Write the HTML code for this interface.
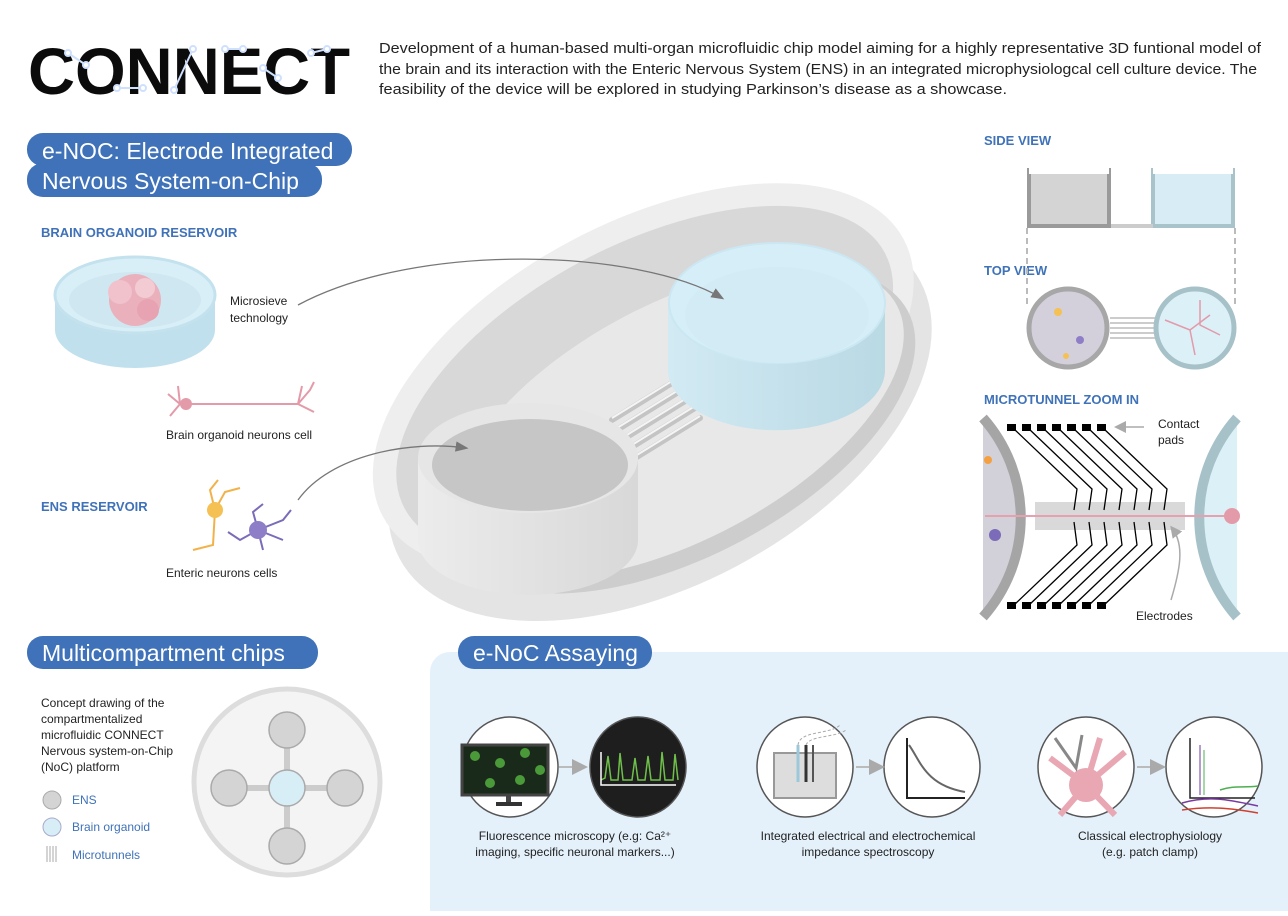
<!DOCTYPE html>
<html><head><meta charset="utf-8"><style>
body{margin:0;width:1288px;height:911px;overflow:hidden;background:#fff;font-family:"Liberation Sans",sans-serif;}
svg text{font-family:"Liberation Sans",sans-serif;}
</style></head><body>
<svg width="1288" height="911" viewBox="0 0 1288 911" xmlns="http://www.w3.org/2000/svg">
<defs>
<linearGradient id="cyl" x1="0" x2="1"><stop offset="0" stop-color="#ececec"/><stop offset="1" stop-color="#d8d8d8"/></linearGradient>
<linearGradient id="bcyl" x1="0" x2="1"><stop offset="0" stop-color="#d2eaf3"/><stop offset="1" stop-color="#b9d9e4"/></linearGradient>
<marker id="ar" markerWidth="10" markerHeight="8" refX="8" refY="4" orient="auto"><path d="M0,0 L10,4 L0,8 z" fill="#777"/></marker>
<marker id="ar2" markerWidth="8" markerHeight="8" refX="6" refY="4" orient="auto"><path d="M0,0 L8,4 L0,8 z" fill="#aaa"/></marker>
</defs>

<!-- Logo -->
<text x="28" y="94" font-size="66" font-weight="bold" fill="#0b0b0b" textLength="322" lengthAdjust="spacingAndGlyphs">CONNECT</text>
<g stroke="#cfe0ff" stroke-width="2" fill="#fff">
<line x1="68" y1="53" x2="86" y2="65"/><line x1="117" y1="88" x2="143" y2="88"/><line x1="174" y1="90" x2="193" y2="49"/><line x1="225" y1="49" x2="243" y2="49"/><line x1="263" y1="68" x2="278" y2="78"/><line x1="311" y1="53" x2="327" y2="49"/>
<circle cx="68" cy="53" r="3"/><circle cx="86" cy="65" r="3"/><circle cx="117" cy="88" r="3"/><circle cx="143" cy="88" r="3"/><circle cx="174" cy="90" r="3"/><circle cx="193" cy="49" r="3"/><circle cx="225" cy="49" r="3"/><circle cx="243" cy="49" r="3"/><circle cx="263" cy="68" r="3"/><circle cx="278" cy="78" r="3"/><circle cx="311" cy="53" r="3"/><circle cx="327" cy="49" r="3"/>
</g>
<g font-size="14.5" fill="#222">
<text x="379" y="53" textLength="882" lengthAdjust="spacingAndGlyphs">Development of a human-based multi-organ microfluidic chip model aiming for a highly representative 3D funtional model of</text>
<text x="379" y="74" textLength="878" lengthAdjust="spacingAndGlyphs">the brain and its interaction with the Enteric Nervous System (ENS) in an integrated microphysiologcal cell culture device. The</text>
<text x="379" y="94" textLength="628" lengthAdjust="spacingAndGlyphs">feasibility of the device will be explored in studying Parkinson’s disease as a showcase.</text>
</g>

<!-- Pills -->
<rect x="27" y="133" width="325" height="33" rx="16" fill="#3f72b8"/>
<rect x="27" y="163" width="295" height="34" rx="16" fill="#3f72b8"/>
<text x="42" y="159" font-size="23" fill="#fff">e-NOC: Electrode Integrated</text>
<text x="42" y="189" font-size="23" fill="#fff">Nervous System-on-Chip</text>
<rect x="27" y="636" width="291" height="33" rx="16" fill="#3f72b8"/>
<text x="42" y="661" font-size="23" fill="#fff">Multicompartment chips</text>

<g font-size="13" font-weight="bold" fill="#3f72b8">
<text x="41" y="237">BRAIN ORGANOID RESERVOIR</text>
<text x="41" y="511">ENS RESERVOIR</text>
<text x="984" y="145">SIDE VIEW</text>
<text x="984" y="275">TOP VIEW</text>
<text x="984" y="404">MICROTUNNEL ZOOM IN</text>
</g>

<!-- Brain organoid dish -->
<path d="M55,295 L55,330 A80,38 0 0 0 215,330 L215,295 Z" fill="#bfe0ec"/>
<ellipse cx="135" cy="295" rx="80" ry="38" fill="#d9eff7" stroke="#c3e2ee" stroke-width="3"/>
<ellipse cx="135" cy="300" rx="66" ry="28" fill="#cfe7f1"/>
<circle cx="135" cy="300" r="26" fill="#eab1bd"/><circle cx="120" cy="292" r="12" fill="#f1c2cc"/><circle cx="148" cy="310" r="11" fill="#e7a3b1"/><circle cx="145" cy="288" r="10" fill="#f3cbd3"/>
<text x="230" y="305" font-size="12" fill="#222">Microsieve</text>
<text x="230" y="322" font-size="12" fill="#222">technology</text>
<g stroke="#e39aa9" stroke-width="2" fill="none"><line x1="190" y1="404" x2="298" y2="404"/><path d="M180,404 l-12,-10 M180,404 l-10,12 M180,404 l-2,-18 M298,404 l12,-14 l4,-8 M298,404 l16,8 M298,404 l4,-18"/></g>
<circle cx="186" cy="404" r="6" fill="#e39aa9"/>
<text x="166" y="439" font-size="12" fill="#222">Brain organoid neurons cell</text>
<g fill="none" stroke-width="2"><path d="M215,510 l-5,-20 l8,-10 M215,510 l-2,35 l-20,5 M215,510 l10,-18 l15,-4" stroke="#f2b24a"/><path d="M258,530 l-18,10 l-12,-8 M258,530 l25,-10 l8,-10 M258,530 l5,20 M258,530 l-5,-18 l10,-8 M258,530 l25,10" stroke="#7b6bb8"/></g>
<circle cx="215" cy="510" r="8" fill="#f5c154"/><circle cx="258" cy="530" r="9" fill="#8e7ec8"/>
<text x="166" y="577" font-size="12" fill="#222">Enteric neurons cells</text>

<!-- Big chip -->
<g transform="rotate(-28 655 400)">
<ellipse cx="650" cy="420" rx="295" ry="165" fill="#e4e4e4"/>
<ellipse cx="655" cy="375" rx="295" ry="155" fill="#eeeeee"/>
<ellipse cx="655" cy="378" rx="272" ry="135" fill="#d8d8d8"/>
<ellipse cx="665" cy="440" rx="255" ry="125" fill="#cdcdcd"/>
<ellipse cx="665" cy="430" rx="248" ry="118" fill="#e8e8e8"/>
</g>
<g stroke="#c4c4c4" stroke-width="6" stroke-linecap="round">
<line x1="612" y1="420" x2="680" y2="378"/><line x1="617" y1="430" x2="685" y2="388"/><line x1="622" y1="440" x2="690" y2="398"/><line x1="627" y1="450" x2="695" y2="408"/><line x1="632" y1="460" x2="700" y2="418"/>
</g>
<g stroke="#f5f5f5" stroke-width="2"><line x1="612" y1="418" x2="680" y2="376"/><line x1="617" y1="428" x2="685" y2="386"/><line x1="622" y1="438" x2="690" y2="396"/><line x1="627" y1="448" x2="695" y2="406"/><line x1="632" y1="458" x2="700" y2="416"/></g>
<path d="M668,303 L668,370 A108,60 0 0 0 885,370 L885,303 Z" fill="url(#bcyl)"/>
<ellipse cx="777" cy="303" rx="108" ry="60" fill="#d6eef7" stroke="#cbe7f2" stroke-width="2"/>
<ellipse cx="777" cy="315" rx="92" ry="48" fill="#d3ebf5"/>
<path d="M418,458 L418,540 A110,55 0 0 0 638,540 L638,458 Z" fill="url(#cyl)"/>
<ellipse cx="528" cy="458" rx="110" ry="55" fill="#e6e6e6"/>
<ellipse cx="530" cy="465" rx="98" ry="46" fill="#c6c6c6"/>
<path d="M298,305 C420,240 640,250 722,298" stroke="#777" stroke-width="1.3" fill="none" marker-end="url(#ar)"/>
<path d="M298,500 C330,455 410,440 466,448" stroke="#777" stroke-width="1.3" fill="none" marker-end="url(#ar)"/>

<!-- Side view -->
<rect x="1029" y="170" width="80" height="56" fill="#d4d4d4" stroke="#9a9a9a" stroke-width="4"/>
<rect x="1029" y="166" width="80" height="8" fill="#fff"/>
<rect x="1153" y="170" width="80" height="56" fill="#d7ecf5" stroke="#a9c3cb" stroke-width="4"/>
<rect x="1153" y="166" width="80" height="8" fill="#fff"/>
<line x1="1111" y1="226" x2="1153" y2="226" stroke="#ccc" stroke-width="4"/>
<g stroke="#bbb" stroke-width="2" stroke-dasharray="6,4" fill="none"><line x1="1027" y1="228" x2="1027" y2="305"/><line x1="1235" y1="228" x2="1235" y2="305"/></g>
<g stroke="#bbb" stroke-width="1.5"><line x1="1110" y1="318" x2="1155" y2="318"/><line x1="1110" y1="323" x2="1155" y2="323"/><line x1="1110" y1="328" x2="1155" y2="328"/><line x1="1110" y1="333" x2="1155" y2="333"/><line x1="1110" y1="338" x2="1155" y2="338"/></g>
<circle cx="1068" cy="328" r="39" fill="#d3d0db" stroke="#a7a7a7" stroke-width="5"/>
<circle cx="1058" cy="312" r="4" fill="#f5c154"/><circle cx="1080" cy="340" r="4" fill="#8e7ec8"/><circle cx="1066" cy="356" r="3" fill="#f5c154"/>
<circle cx="1195" cy="328" r="39" fill="#dcf0f8" stroke="#a7c1c9" stroke-width="5"/>
<g stroke="#e39aa9" stroke-width="1.5" fill="none"><path d="M1165,320 l25,10 l20,-15 M1190,330 l5,25 M1200,300 l0,25 l20,10"/></g>

<!-- Microtunnel zoom -->
<path d="M983,420 A150,150 0 0 1 983,615 Z" fill="#d2d0d9"/>
<path d="M983,418 A150,150 0 0 1 983,617" fill="none" stroke="#a5a5a5" stroke-width="10"/>
<path d="M1237,420 A150,150 0 0 0 1237,617 L1237,420 Z" fill="#dcf0f8"/>
<path d="M1237,418 A150,150 0 0 0 1237,617" fill="none" stroke="#a7c1c9" stroke-width="10"/>
<rect x="1035" y="502" width="150" height="28" fill="#d9d9d9"/>
<line x1="985" y1="516" x2="1230" y2="516" stroke="#e6a0ae" stroke-width="2"/>
<circle cx="1232" cy="516" r="8" fill="#e39aa9"/>
<circle cx="995" cy="535" r="6" fill="#7b6bb8"/><circle cx="988" cy="460" r="4" fill="#f5a040"/>
<g fill="#000"><rect x="1007" y="424" width="9" height="7"/><rect x="1022" y="424" width="9" height="7"/><rect x="1037" y="424" width="9" height="7"/><rect x="1052" y="424" width="9" height="7"/><rect x="1067" y="424" width="9" height="7"/><rect x="1082" y="424" width="9" height="7"/><rect x="1097" y="424" width="9" height="7"/>
<rect x="1007" y="602" width="9" height="7"/><rect x="1022" y="602" width="9" height="7"/><rect x="1037" y="602" width="9" height="7"/><rect x="1052" y="602" width="9" height="7"/><rect x="1067" y="602" width="9" height="7"/><rect x="1082" y="602" width="9" height="7"/><rect x="1097" y="602" width="9" height="7"/></g>
<g stroke="#000" stroke-width="1.3" fill="none">
<path d="M1013,428 L1077,489 L1074,510 M1013,606 L1077,545 L1074,522"/>
<path d="M1028,428 L1092,489 L1089,510 M1028,606 L1092,545 L1089,522"/>
<path d="M1043,428 L1107,489 L1104,510 M1043,606 L1107,545 L1104,522"/>
<path d="M1058,428 L1122,489 L1119,510 M1058,606 L1122,545 L1119,522"/>
<path d="M1073,428 L1137,489 L1134,510 M1073,606 L1137,545 L1134,522"/>
<path d="M1088,428 L1152,489 L1149,510 M1088,606 L1152,545 L1149,522"/>
<path d="M1103,428 L1167,489 L1164,510 M1103,606 L1167,545 L1164,522"/>
</g>
<line x1="1144" y1="427" x2="1117" y2="427" stroke="#aaa" stroke-width="1.5" marker-end="url(#ar2)"/>
<path d="M1171,600 C1180,570 1185,545 1172,528" stroke="#aaa" stroke-width="1.5" fill="none" marker-end="url(#ar2)"/>
<text x="1158" y="428" font-size="12" fill="#222">Contact</text>
<text x="1158" y="444" font-size="12" fill="#222">pads</text>
<text x="1136" y="620" font-size="12" fill="#222">Electrodes</text>

<!-- Assay panel -->
<path d="M450,652 L1288,652 L1288,911 L430,911 L430,672 A20,20 0 0 1 450,652 Z" fill="#e4f1fa"/>
<rect x="458" y="636" width="194" height="33" rx="16" fill="#3f72b8"/>
<text x="473" y="661" font-size="23" fill="#fff">e-NoC Assaying</text>

<g font-size="12" fill="#222"><text x="41" y="707">Concept drawing of the</text><text x="41" y="723">compartmentalized</text><text x="41" y="739">microfluidic CONNECT</text><text x="41" y="755">Nervous system-on-Chip</text><text x="41" y="771">(NoC) platform</text></g>
<circle cx="52" cy="800" r="9" fill="#d4d4d4" stroke="#aaa"/><text x="72" y="804" font-size="12" fill="#3f72b8">ENS</text>
<circle cx="52" cy="827" r="9" fill="#d7eef7" stroke="#aac"/><text x="72" y="831" font-size="12" fill="#3f72b8">Brain organoid</text>
<g stroke="#aaa"><line x1="47" y1="846" x2="47" y2="862"/><line x1="50" y1="846" x2="50" y2="862"/><line x1="53" y1="846" x2="53" y2="862"/><line x1="56" y1="846" x2="56" y2="862"/></g><text x="72" y="859" font-size="12" fill="#3f72b8">Microtunnels</text>
<circle cx="287" cy="782" r="93" fill="#f4f4f4" stroke="#ddd" stroke-width="5"/>
<g stroke="#ccc" stroke-width="6"><line x1="229" y1="788" x2="345" y2="788"/><line x1="287" y1="730" x2="287" y2="846"/></g>
<circle cx="287" cy="730" r="18" fill="#d4d4d4" stroke="#aaa" stroke-width="1.5"/>
<circle cx="287" cy="846" r="18" fill="#d4d4d4" stroke="#aaa" stroke-width="1.5"/>
<circle cx="229" cy="788" r="18" fill="#d4d4d4" stroke="#aaa" stroke-width="1.5"/>
<circle cx="345" cy="788" r="18" fill="#d4d4d4" stroke="#aaa" stroke-width="1.5"/>
<circle cx="287" cy="788" r="18" fill="#d7eef7" stroke="#aaa" stroke-width="1.5"/>

<!-- assay circles -->
<g stroke="#555" stroke-width="1.5">
<ellipse cx="510" cy="767" rx="48" ry="50" fill="#fff"/>
<ellipse cx="638" cy="767" rx="48" ry="50" fill="#1f1e1e"/>
<ellipse cx="805" cy="767" rx="48" ry="50" fill="#fff"/>
<ellipse cx="932" cy="767" rx="48" ry="50" fill="#fff"/>
<ellipse cx="1086" cy="767" rx="48" ry="50" fill="#fff"/>
<ellipse cx="1214" cy="767" rx="48" ry="50" fill="#fff"/>
</g>
<g stroke="#bbb" stroke-width="2"><line x1="559" y1="767" x2="584" y2="767" marker-end="url(#ar2)"/><line x1="856" y1="767" x2="881" y2="767" marker-end="url(#ar2)"/><line x1="1137" y1="767" x2="1162" y2="767" marker-end="url(#ar2)"/></g>
<rect x="462" y="745" width="86" height="50" fill="#1a2a1a" stroke="#444" stroke-width="3"/>
<g fill="#4a9a3a"><circle cx="475" cy="756" r="5"/><circle cx="500" cy="763" r="5"/><circle cx="525" cy="753" r="5"/><circle cx="490" cy="783" r="5"/><circle cx="520" cy="780" r="5"/><circle cx="540" cy="770" r="5"/></g>
<rect x="506" y="795" width="5" height="8" fill="#444"/><rect x="496" y="802" width="26" height="4" fill="#333"/>
<polyline points="601,780 605,778 608,756 611,780 618,780 620,753 623,780 632,780 635,758 638,780 645,780 648,756 651,780 660,780 662,752 665,780 673,780 675,754 678,780" stroke="#6fc04a" stroke-width="1.5" fill="none"/>
<path d="M601,752 L601,785 L676,785" stroke="#fff" stroke-width="1.5" fill="none"/>
<rect x="774" y="753" width="62" height="45" fill="#ddd" stroke="#999" stroke-width="2"/>
<line x1="798" y1="745" x2="798" y2="782" stroke="#9cc8da" stroke-width="3"/><line x1="806" y1="745" x2="806" y2="782" stroke="#333" stroke-width="3"/><line x1="813" y1="745" x2="813" y2="782" stroke="#555" stroke-width="2"/>
<path d="M798,745 C800,730 830,735 840,725 M806,745 C810,735 835,738 846,730" stroke="#aaa" stroke-dasharray="3,2" fill="none"/>
<path d="M907,738 L907,798 L965,798" stroke="#222" stroke-width="2" fill="none"/>
<path d="M909,745 C920,760 925,785 965,792" stroke="#666" stroke-width="2" fill="none"/>
<g stroke="#e8a7b3" stroke-width="6" fill="none"><path d="M1086,785 L1050,758 M1086,785 L1125,752 M1086,785 L1060,815 M1086,785 L1115,815 M1086,785 L1100,738"/></g>
<circle cx="1086" cy="785" r="17" fill="#e8a7b3"/>
<path d="M1055,738 L1076,768 L1082,735" stroke="#888" stroke-width="3" fill="none"/>
<path d="M1190,738 L1190,798 L1255,798" stroke="#222" stroke-width="1.5" fill="none"/>
<line x1="1200" y1="745" x2="1200" y2="795" stroke="#6a3aa0"/><line x1="1204" y1="750" x2="1204" y2="795" stroke="#4caf50"/>
<path d="M1182,803 C1210,795 1230,800 1258,806" stroke="#7a3aa0" fill="none" stroke-width="1.5"/>
<path d="M1182,810 C1210,806 1230,808 1258,813" stroke="#d04030" fill="none" stroke-width="1.5"/>
<path d="M1220,790 C1235,785 1245,788 1258,786" stroke="#4caf50" fill="none" stroke-width="1.5"/>
<g font-size="12" fill="#222" text-anchor="middle">
<text x="575" y="840">Fluorescence microscopy (e.g: Ca²⁺</text><text x="575" y="856">imaging, specific neuronal markers...)</text>
<text x="868" y="840">Integrated electrical and electrochemical</text><text x="868" y="856">impedance spectroscopy</text>
<text x="1150" y="840">Classical electrophysiology</text><text x="1150" y="856">(e.g. patch clamp)</text>
</g>
</svg>
</body></html>
